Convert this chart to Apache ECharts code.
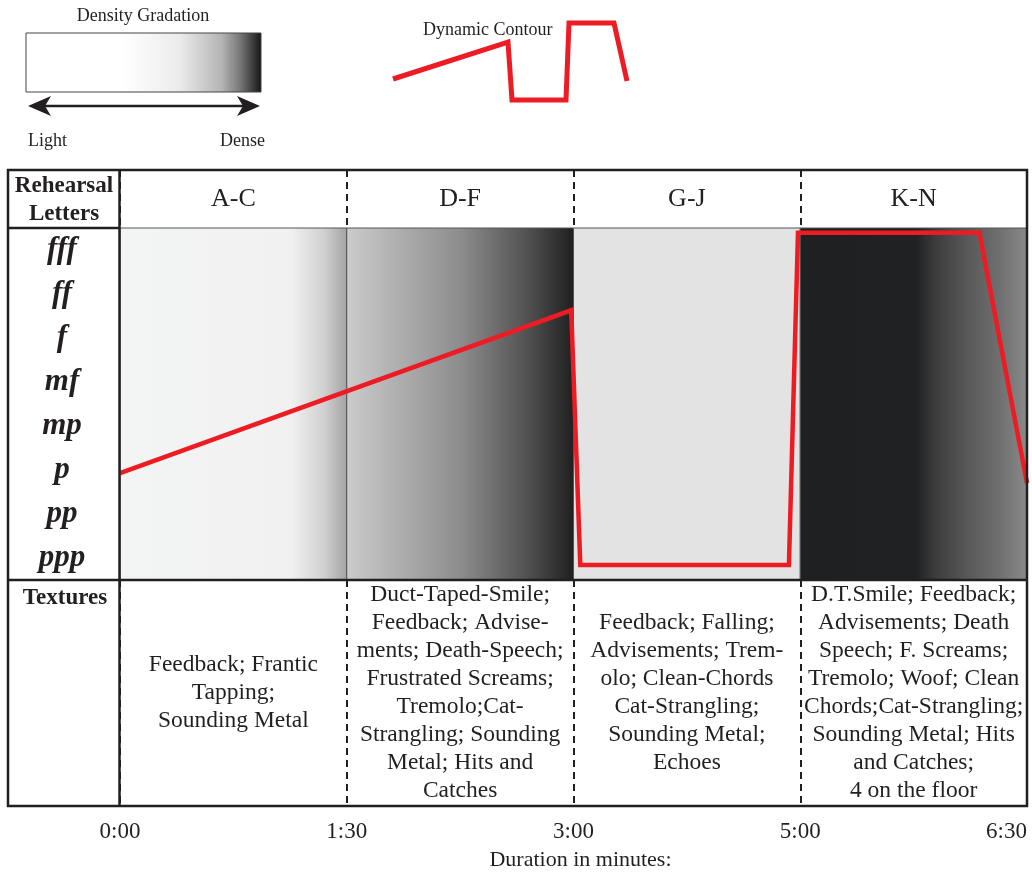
<!DOCTYPE html>
<html>
<head>
<meta charset="utf-8">
<script src="https://cdn.jsdelivr.net/npm/echarts@6/dist/echarts.min.js"></script>
<style>
  html, body { margin: 0; background: #fff; }
  #chart { width: 1032px; height: 872px; }
</style>
</head>
<body>
<div id="chart"></div>
<script>
// rehearsal letter sections (equal width columns)
const sections = ['A-C', 'D-F', 'G-J', 'K-N']
const timeLabels = ['0:00', '1:30', '3:00', '5:00', '6:30']
const dynamics = ['ppp', 'pp', 'p', 'mp', 'mf', 'f', 'ff', 'fff']
const textures = [
  'Feedback; Frantic\nTapping;\nSounding Metal',
  'Duct-Taped-Smile;\nFeedback; Advise-\nments; Death-Speech;\nFrustrated Screams;\nTremolo;Cat-\nStrangling; Sounding\nMetal; Hits and\nCatches',
  'Feedback; Falling;\nAdvisements; Trem-\nolo; Clean-Chords\nCat-Strangling;\nSounding Metal;\nEchoes',
  'D.T.Smile; Feedback;\nAdvisements; Death\nSpeech; F. Screams;\nTremolo; Woof; Clean\nChords;Cat-Strangling;\nSounding Metal; Hits\nand Catches;\n4 on the floor',
]
// density shading of each section, left -> right
const densityStops = [
  [[0, '#f3f4f4'], [0.75, '#f1f1f1'], [0.9, '#d0d0d0'], [1, '#a2a2a2']],
  [[0, '#cbcbcb'], [0.5, '#8d8d8d'], [0.8, '#505050'], [1, '#1f1f1f']],
  [[0, '#e3e3e3'], [1, '#e3e3e3']],
  [[0, '#1f2022'], [0.51, '#202123'], [0.6, '#3d3d3d'], [0.72, '#555555'], [0.88, '#707070'], [1, '#8a8a8a']],
]
const legendStops = [[0, '#ffffff'], [0.41, '#ffffff'], [0.65, '#ececec'], [0.83, '#b5b5b5'], [0.91, '#777777'], [1, '#151515']]
// dynamic contour: x in sections, y in dynamic steps (ppp = 0)
const contourX = [0, 1.99, 2.03, 2.95, 2.99, 3.79, 4]
const contourY = [1.93, 5.63, -0.16, -0.16, 7.39, 7.39, 1.7]

const FONT = "'Liberation Serif', 'Times New Roman', serif"
const INK = '#231f20'
const RED = '#ed1c24'

// table layout
const L = 8, R = 1027, COL = 120, TOP = 170, HEAD = 228, PLOT = 580, BOT = 806
const W = R - COL

const dashed = { show: true, lineStyle: { type: [7, 5], color: INK, width: 2 } }

const chart = echarts.init(document.getElementById('chart'))

chart.setOption({
  animation: false,
  grid: [
    { left: COL, top: TOP, width: W, height: HEAD - TOP },
    { left: COL, top: HEAD, width: W, height: PLOT - HEAD },
    { left: COL, top: PLOT, width: W, height: BOT - PLOT },
  ],
  xAxis: [
    {
      gridIndex: 0, type: 'value', min: 0, max: 4, interval: 1,
      axisLine: { show: false }, axisTick: { show: false }, axisLabel: { show: false },
      splitLine: dashed,
    },
    { gridIndex: 1, type: 'value', min: 0, max: 4, show: false },
    {
      gridIndex: 2, type: 'value', min: 0, max: 4, interval: 1,
      axisLine: { show: false }, axisTick: { show: false },
      axisLabel: {
        formatter: (v) => timeLabels[v], margin: 14, alignMaxLabel: 'right',
        fontSize: 23, color: INK, fontFamily: FONT,
      },
      splitLine: dashed,
      name: 'Duration in minutes:', nameLocation: 'middle', nameGap: 43,
      nameTextStyle: { fontSize: 22, color: INK, fontFamily: FONT, padding: [0, 0, 0, 14] },
    },
  ],
  yAxis: [
    { gridIndex: 0, type: 'value', min: 0, max: 1, show: false },
    {
      gridIndex: 1, type: 'category', data: dynamics,
      axisLine: { show: false }, axisTick: { show: false }, splitLine: { show: false },
      axisLabel: {
        align: 'center', margin: 58, fontSize: 31, fontStyle: 'italic', fontWeight: 'bold',
        color: INK, fontFamily: FONT,
      },
    },
    { gridIndex: 1, type: 'value', min: -0.5, max: 7.5, show: false },
    { gridIndex: 2, type: 'value', min: 0, max: 1, show: false },
  ],
  series: [
    {
      // density shading
      type: 'custom', xAxisIndex: 1, yAxisIndex: 2, silent: true,
      data: sections.map((s, i) => [i, i + 1]),
      renderItem: (params, api) => {
        const cs = params.coordSys
        const x0 = api.coord([api.value(0), 0])[0]
        const x1 = api.coord([api.value(1), 0])[0]
        const stops = densityStops[params.dataIndex].map(([offset, color]) => ({ offset, color }))
        return {
          type: 'rect',
          shape: { x: x0, y: cs.y, width: x1 - x0, height: cs.height },
          style: { fill: new echarts.graphic.LinearGradient(0, 0, 1, 0, stops), stroke: '#555', lineWidth: 1 },
        }
      },
    },
    {
      type: 'line', name: 'Dynamic Contour', xAxisIndex: 1, yAxisIndex: 2, z: 5,
      symbol: 'none', clip: false,
      lineStyle: { color: RED, width: 4.5, join: 'miter' },
      data: contourX.map((x, i) => [x, contourY[i]]),
    },
    {
      type: 'scatter', xAxisIndex: 0, yAxisIndex: 0, symbolSize: 0, silent: true,
      itemStyle: { opacity: 1 },
      data: sections.map((s, i) => ({ value: [i + 0.5, 0.5], name: s })),
      label: { show: true, position: 'inside', formatter: '{b}', fontSize: 26, color: INK, opacity: 1, fontFamily: FONT },
    },
    {
      type: 'scatter', xAxisIndex: 2, yAxisIndex: 3, symbolSize: 0, silent: true,
      itemStyle: { opacity: 1 },
      data: textures.map((t, i) => ({ value: [i + 0.5, 0.5], name: t })),
      label: {
        show: true, position: 'inside', formatter: '{b}', align: 'center', opacity: 1,
        fontSize: 23.5, lineHeight: 28, color: INK, fontFamily: FONT,
      },
    },
  ],
  graphic: [
    // table rules
    { type: 'rect', z: 100, shape: { x: L, y: TOP, width: R - L, height: BOT - TOP }, style: { fill: 'none', stroke: INK, lineWidth: 2.5 } },
    { type: 'line', z: 100, shape: { x1: COL - 0.5, y1: TOP, x2: COL - 0.5, y2: BOT }, style: { stroke: INK, lineWidth: 2.5 } },
    { type: 'line', z: 100, shape: { x1: L, y1: HEAD, x2: COL, y2: HEAD }, style: { stroke: INK, lineWidth: 2.5 } },
    { type: 'line', z: 100, shape: { x1: L, y1: PLOT, x2: R, y2: PLOT }, style: { stroke: INK, lineWidth: 2.5 } },
    {
      type: 'text', z: 100, x: (L + COL) / 2, y: 200,
      style: { text: 'Rehearsal\nLetters', font: 'bold 23px ' + FONT, fill: INK, lineHeight: 28,
        align: 'center', verticalAlign: 'middle', textAlign: 'center', textVerticalAlign: 'middle' },
    },
    {
      type: 'text', z: 100, x: (L + COL) / 2 + 1, y: 598,
      style: { text: 'Textures', font: 'bold 23px ' + FONT, fill: INK,
        align: 'center', verticalAlign: 'middle', textAlign: 'center', textVerticalAlign: 'middle' },
    },
    // density legend
    {
      type: 'text', x: 143, y: 16,
      style: { text: 'Density Gradation', font: '18px ' + FONT, fill: INK,
        align: 'center', verticalAlign: 'middle', textAlign: 'center', textVerticalAlign: 'middle' },
    },
    {
      type: 'rect', shape: { x: 26, y: 33, width: 235, height: 59 },
      style: {
        fill: new echarts.graphic.LinearGradient(0, 0, 1, 0, legendStops.map(([offset, color]) => ({ offset, color }))),
        stroke: '#444', lineWidth: 1,
      },
    },
    { type: 'line', shape: { x1: 40, y1: 106, x2: 248, y2: 106 }, style: { stroke: INK, lineWidth: 2.5 } },
    { type: 'polygon', shape: { points: [[28, 106], [51, 96], [45, 106], [51, 116]] }, style: { fill: INK } },
    { type: 'polygon', shape: { points: [[260, 106], [237, 96], [243, 106], [237, 116]] }, style: { fill: INK } },
    {
      type: 'text', x: 28, y: 141,
      style: { text: 'Light', font: '18px ' + FONT, fill: INK, verticalAlign: 'middle', textVerticalAlign: 'middle' },
    },
    {
      type: 'text', x: 220, y: 141,
      style: { text: 'Dense', font: '18px ' + FONT, fill: INK, verticalAlign: 'middle', textVerticalAlign: 'middle' },
    },
    // contour legend
    {
      type: 'polyline',
      shape: { points: [[393, 79], [508, 42], [512, 100], [566, 100], [569, 23], [614, 23], [627, 81]] },
      style: { stroke: RED, lineWidth: 5, fill: 'none' },
    },
    {
      type: 'text', x: 423, y: 30,
      style: { text: 'Dynamic Contour', font: '18px ' + FONT, fill: INK, verticalAlign: 'middle', textVerticalAlign: 'middle' },
    },
  ],
})
</script>
</body>
</html>
